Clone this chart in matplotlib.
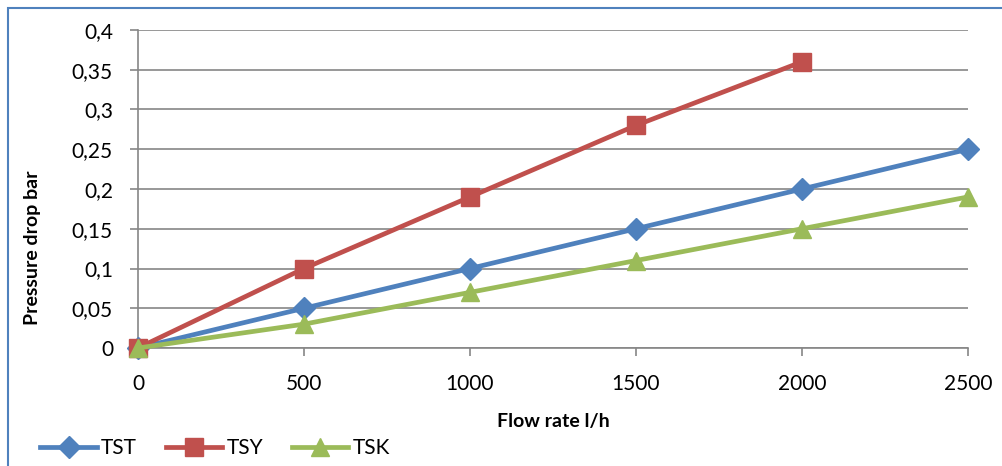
import matplotlib
matplotlib.use("Agg")

import matplotlib.pyplot as plt
from matplotlib.patches import Rectangle
from matplotlib.ticker import FuncFormatter, MultipleLocator

# data
flow_rate = [0, 500, 1000, 1500, 2000, 2500]
tst = [0, 0.05, 0.10, 0.15, 0.20, 0.25]
tsy = [0, 0.10, 0.19, 0.28, 0.36]
tsk = [0, 0.03, 0.07, 0.11, 0.15, 0.19]

BLUE = "#4F81BD"
RED = "#C0504D"
GREEN = "#9BBB59"
GRID = "#868686"

plt.rcParams["font.family"] = ["Lato", "DejaVu Sans"]

W, H = 1002, 466
fig = plt.figure(figsize=(W / 100, H / 100), dpi=100)
ax = fig.add_axes([138 / W, 1 - 348 / H, (968 - 138) / W, (348 - 30) / H])

ax.plot(flow_rate, tst, color=BLUE, lw=3.4, marker="D", ms=11, label="TST", clip_on=False, zorder=3)
ax.plot(flow_rate[:len(tsy)], tsy, color=RED, lw=3.4, marker="s", ms=13, label="TSY", clip_on=False, zorder=3)
ax.plot(flow_rate, tsk, color=GREEN, lw=3.4, marker="^", ms=13, label="TSK", clip_on=False, zorder=4)

ax.set_xlim(0, 2500)
ax.set_ylim(0, 0.4)
ax.xaxis.set_major_locator(MultipleLocator(500))
ax.yaxis.set_major_locator(MultipleLocator(0.05))
ax.yaxis.set_major_formatter(FuncFormatter(lambda v, _: f"{v:.2f}".rstrip("0").rstrip(".").replace(".", ",")))

ax.grid(axis="y", color=GRID, lw=1.2)
ax.set_axisbelow(True)
for side in ["top", "right"]:
    ax.spines[side].set_visible(False)
for side in ["left", "bottom"]:
    ax.spines[side].set_color(GRID)
    ax.spines[side].set_linewidth(1.2)
ax.tick_params(axis="both", color=GRID, width=1.2, length=6, labelsize=15)
ax.tick_params(axis="y", pad=12)
ax.tick_params(axis="x", pad=13)

fig.text(33 / W, 1 - 248 / H, "Pressure drop bar", rotation=90, ha="center", va="center",
         fontsize=14, fontweight="bold")
fig.text(553 / W, 1 - 422 / H, "Flow rate l/h", ha="center", va="center",
         fontsize=14, fontweight="bold")

fig.legend(loc="center left", bbox_to_anchor=(30 / W, 1 - 448 / H), ncol=3, frameon=False,
           fontsize=15, handlelength=2.7, handletextpad=0.2, columnspacing=1.4, borderpad=0)

fig.patches.append(Rectangle((8 / W, -0.1), 1.1, 1 - 8 / H + 0.1, transform=fig.transFigure,
                             fill=False, edgecolor=BLUE, lw=1.5))

fig.savefig("out.png", dpi=100)
